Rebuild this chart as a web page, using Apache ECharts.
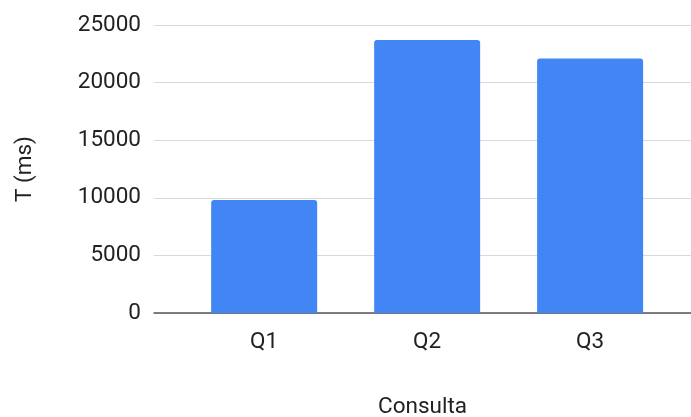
<!DOCTYPE html>
<html>
<head>
<meta charset="utf-8">
<script src="https://cdn.jsdelivr.net/npm/echarts@6/dist/echarts.min.js"></script>
<style>
  html, body { margin: 0; padding: 0; background: #fff; }
  #chart { width: 691px; height: 417px; }
</style>
</head>
<body>
<div id="chart"></div>
<script>
// Query timings (ms)
const categories = ['Q1', 'Q2', 'Q3'];
const times = [9800, 23700, 22100];
const yTicks = [0, 5000, 10000, 15000, 20000, 25000];

const positions = categories.map((_, i) => i + 1);
const barData = positions.map((p, i) => [p, times[i]]);

const textColor = '#222222';
const font = 'Roboto';
const fontSize = 22.5;

const chart = echarts.init(document.getElementById('chart'), null, { renderer: 'canvas' });
chart.setOption({
  animation: false,
  backgroundColor: '#ffffff',
  grid: { left: 154, right: 0, top: 25, bottom: 104, containLabel: false, outerBoundsMode: 'none' },
  xAxis: {
    type: 'value',
    min: 0.324,
    max: 3.619,
    name: 'Consulta',
    nameLocation: 'middle',
    nameGap: 83,
    nameTextStyle: { color: textColor, fontFamily: font, fontSize: fontSize },
    axisLine: { show: true, onZero: false, lineStyle: { color: '#555555', width: 1.5 } },
    axisTick: { show: false },
    splitLine: { show: false },
    axisLabel: {
      customValues: positions,
      formatter: v => categories[Math.round(v) - 1] || '',
      color: textColor, fontFamily: font, fontSize: fontSize, margin: 18
    }
  },
  yAxis: {
    type: 'value',
    min: yTicks[0],
    max: yTicks[yTicks.length - 1],
    interval: yTicks[1] - yTicks[0],
    name: 'T (ms)',
    nameLocation: 'middle',
    nameGap: 117,
    nameTextStyle: { color: textColor, fontFamily: font, fontSize: fontSize },
    axisLine: { show: false },
    axisTick: { show: false },
    splitLine: { lineStyle: { color: '#d9d9d9', width: 1 } },
    axisLabel: {
      formatter: v => String(v),
      color: textColor, fontFamily: font, fontSize: fontSize, margin: 13
    }
  },
  series: [{
    type: 'bar',
    data: barData,
    barWidth: 106,
    itemStyle: { color: '#4285F4', borderRadius: [3, 3, 0, 0] }
  }]
});
</script>
</body>
</html>
